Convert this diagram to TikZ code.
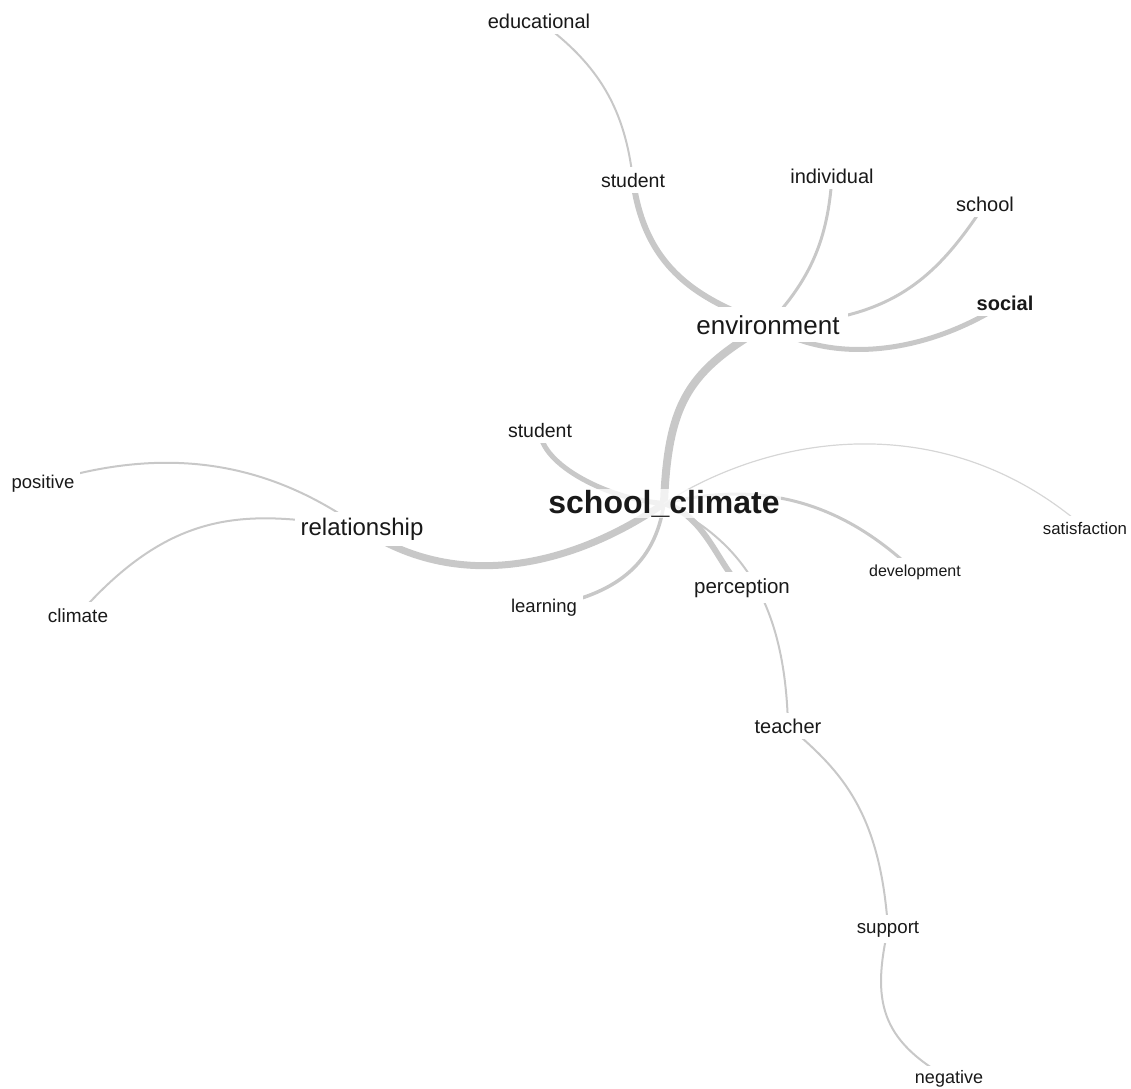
\documentclass[tikz,border=0pt]{standalone}
\usepackage{fontspec}
\setmainfont{Liberation Sans}
\pgfdeclarelayer{bg}
\pgfsetlayers{bg,main}
\definecolor{edgegray}{RGB}{200,200,200}
\definecolor{edgelight}{RGB}{214,214,214}
\definecolor{txt}{RGB}{25,25,25}
\newcommand\fsz[1]{\fontsize{#1}{#1}\selectfont}
\begin{document}
\begin{tikzpicture}[x=1pt,y=-1pt,
  lbl/.style={fill=white, inner sep=6pt, anchor=base, text=txt},
  edge/.style={draw=edgegray, line cap=round}]
\useasboundingbox (0,0) rectangle (1131,1088);

% labels
\node[lbl, font=\fsz{20}] (edu) at (539,28) {educational};
\node[lbl, font=\fsz{19.5}] (stuT) at (633,187) {student};
\node[lbl, font=\fsz{20}] (ind) at (832,183) {individual};
\node[lbl, font=\fsz{20}] (sch) at (985,211) {school};
\node[lbl, font=\fsz{20}\bfseries] (soc) at (1005,310) {social};
\node[lbl, font=\fsz{26}, inner sep=8pt] (env) at (768,334) {environment};
\node[lbl, font=\fsz{19.5}] (stuC) at (540,437) {student};
\node[lbl, font=\fsz{32}\bfseries, inner sep=1pt, fill opacity=0.75, text opacity=1] (sc) at (664,513) {school\_climate};
\node[lbl, font=\fsz{24}] (rel) at (362,535) {relationship};
\node[lbl, font=\fsz{18.5}] (pos) at (43,488) {positive};
\node[lbl, font=\fsz{19}] (cli) at (78,622) {climate};
\node[lbl, font=\fsz{18.5}] (lea) at (544,612) {learning};
\node[lbl, font=\fsz{20.5}] (per) at (742,593) {perception};
\node[lbl, font=\fsz{16}] (dev) at (915,576) {development};
\node[lbl, font=\fsz{16.8}] (sat) at (1085,534) {satisfaction};
\node[lbl, font=\fsz{20}] (tea) at (788,733) {teacher};
\node[lbl, font=\fsz{18.7}] (sup) at (888,933) {support};
\node[lbl, font=\fsz{18}, inner sep=4pt] (neg) at (949,1083) {negative};

% connectors
\begin{pgfonlayer}{bg}
\draw[edge, line width=8pt] (sc.center) .. controls (668,400) and (690,370) .. (env.center);
\draw[edge, line width=6pt] (env.center) .. controls (700,300) and (645,270) .. (stuT.center);
\draw[edge, line width=2pt] (stuT.center) .. controls (625,110) and (600,65) .. (edu.center);
\draw[edge, line width=3pt] (env.center) .. controls (810,280) and (828,240) .. (ind.center);
\draw[edge, line width=3pt] (env.center) .. controls (890,322) and (935,280) .. (sch.center);
\draw[edge, line width=5pt] (env.center) .. controls (830,365) and (925,355) .. (soc.center);
\draw[edge, line width=5pt] (sc.center) .. controls (610,500) and (540,465) .. (stuC.center);
\draw[edge, line width=7pt] (sc.center) .. controls (590,555) and (470,600) .. (rel.center);
\draw[edge, line width=2pt] (rel.center) .. controls (280,470) and (180,440) .. (pos.center);
\draw[edge, line width=2pt] (rel.center) .. controls (250,510) and (175,505) .. (cli.center);
\draw[edge, line width=3.5pt] (sc.center) .. controls (655,565) and (615,595) .. (lea.center);
\draw[edge, line width=6pt] (sc.center) .. controls (705,515) and (718,565) .. (per.center);
\draw[edge, line width=2pt] (sc.center) .. controls (740,540) and (785,600) .. (tea.center);
\draw[edge, line width=3pt] (sc.center) .. controls (760,480) and (840,500) .. (dev.center);
\draw[draw=edgelight, line cap=round, line width=1.2pt] (sc.center) .. controls (780,430) and (950,410) .. (sat.center);
\draw[edge, line width=2pt] (tea.center) .. controls (840,770) and (880,810) .. (sup.center);
\draw[edge, line width=2pt] (sup.center) .. controls (872,1000) and (880,1040) .. (neg.center);
\end{pgfonlayer}
\end{tikzpicture}
\end{document}
